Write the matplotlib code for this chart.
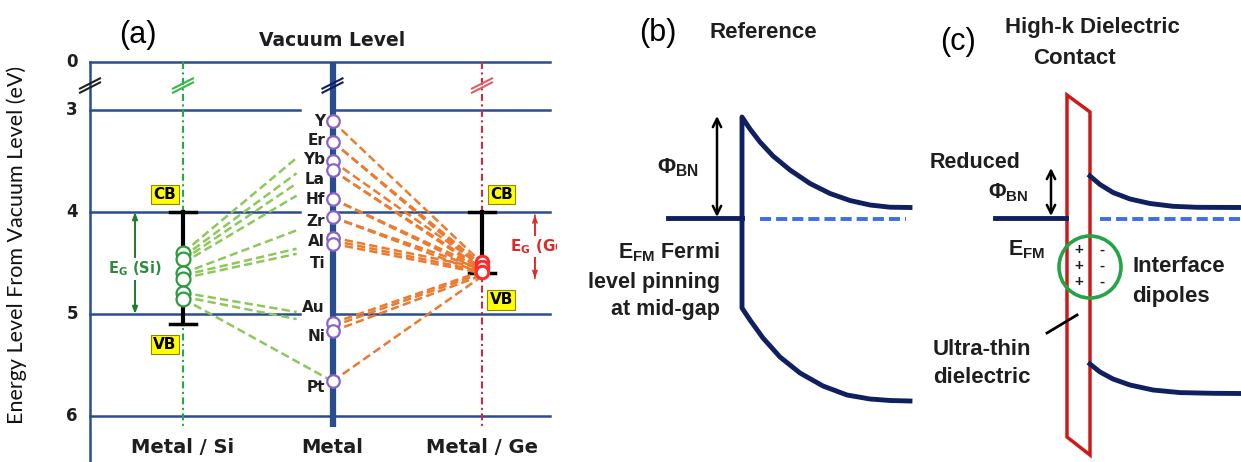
import numpy as np
import matplotlib.pyplot as plt
from matplotlib.patches import Polygon, Circle

plt.rcParams['lines.scale_dashes'] = False
plt.rcParams['font.family'] = ['DejaVu Sans']

# ---------------- panel (a): energies in eV below vacuum ----------------
grid_levels = [0, 3, 4, 5, 6]
metals = ['Y', 'Er', 'Yb', 'La', 'Hf', 'Zr', 'Al', 'Ti', 'Au', 'Ni', 'Pt']
metal_wf = [3.11, 3.31, 3.50, 3.59, 3.87, 4.05, 4.25, 4.31, 5.09, 5.17, 5.66]
metal_label_e = [3.11, 3.30, 3.49, 3.68, 3.88, 4.09, 4.29, 4.50, 4.94, 5.22, 5.72]
si_cb, si_vb = 4.0, 5.1
ge_cb, ge_vb = 4.0, 4.6
si_pin = [4.40, 4.46, 4.60, 4.66, 4.79, 4.85]
ge_pin = [4.49, 4.54, 4.59]
# (Si pinned level, metal level) for the green lines
green_links = [(4.40, 3.47), (4.44, 3.62), (4.47, 3.72), (4.50, 3.84),
               (4.60, 4.18), (4.62, 4.36), (4.65, 4.41), (4.79, 4.98),
               (4.83, 5.05), (4.85, 5.66)]
# (metal level, Ge pinned level) for the orange lines
orange_links = [(3.11, 4.50), (3.31, 4.52), (3.31, 4.55), (3.50, 4.53),
                (3.59, 4.55), (3.59, 4.57), (3.87, 4.55), (3.87, 4.58),
                (4.05, 4.56), (4.05, 4.60), (4.25, 4.55), (4.28, 4.58),
                (4.31, 4.60), (5.09, 4.58), (5.12, 4.60), (5.17, 4.62),
                (5.66, 4.63)]
columns = ['Metal / Si', 'Metal', 'Metal / Ge']

# ---------------- panels (b) and (c): schematic band edges ----------------
b_cb_x = [742, 750, 760, 773, 790, 810, 830, 850, 870, 890, 910]
b_cb_y = [117, 129, 142, 156, 170, 183.5, 193.5, 200.5, 205, 207.2, 207.5]
b_vb_x = [742, 750, 763, 780, 800, 823, 847, 870, 890, 910]
b_vb_y = [308, 320, 338, 357, 373, 386, 395, 399, 400.5, 401]
c_cb_x = [1090, 1100, 1113, 1130, 1150, 1173, 1197, 1241]
c_cb_y = [176, 184.5, 192.5, 199, 203.5, 206.3, 207.3, 207.5]
c_vb_x = [1090, 1100, 1113, 1130, 1153, 1180, 1213, 1241]
c_vb_y = [364, 372, 379, 385, 390, 392.6, 393.3, 393.5]
dielectric = [(1067, 95), (1090, 112), (1090, 455), (1067, 437)]

navy = '#2a4d8f'
band = '#0f1f5f'
green = '#2e9a3e'
red = '#e02828'
ink = '#1e1e1e'


def yv(e):
    # broken axis: vacuum level drawn just above 3 eV
    return e if e >= 3 else 2.53


fig = plt.figure(figsize=(12.41, 4.62), dpi=100)

ax = fig.add_axes([0, 0, 557 / 1241, 1])
ax.set_xlim(-33.5 / 149.5, (557 - 33.5) / 149.5)
ax.set_ylim(3 + 352 / 102, 3 - 110 / 102)
ax.axis('off')

x_axis, x_end = 0.378, 3.455
x_si, x_m, x_ge = 1, 2, 3

for lev in grid_levels:
    y = yv(lev)
    if lev in (3, 4, 5):
        ax.plot([x_axis, 1.78], [y, y], color=navy, lw=1.8)
        ax.plot([x_m, x_end], [y, y], color=navy, lw=1.8)
    else:
        ax.plot([x_axis, x_end], [y, y], color=navy, lw=1.8)
    ax.text(0.258, y, str(lev), ha='center', va='center', fontsize=12,
            fontweight='bold', color=ink)
ax.plot([x_axis, x_axis], [yv(0), 6.45], color=navy, lw=1.8)

ax.plot([x_si, x_si], [yv(0), 6.11], color='#22aa44', lw=1.5,
        dashes=(5, 2.5, 1.5, 2.5))
ax.plot([x_ge, x_ge], [yv(0), 6.11], color='#d02a3a', lw=1.5,
        dashes=(5, 2.5, 1.5, 2.5))
ax.plot([x_m, x_m], [yv(0), 6.11], color=navy, lw=4.5, solid_capstyle='butt')


def brk(x, color):
    for d in (-0.02, 0.02):
        ax.plot([x - 0.067, x + 0.067], [2.76 + 0.05 + d, 2.76 - 0.05 + d],
                color=color, lw=1.5)


brk(x_axis, '#222222')
brk(x_si, '#33bb44')
brk(x_m, band)
brk(x_ge, '#e06060')

# band gaps
ax.plot([x_si, x_si], [si_cb, si_vb], color='k', lw=3)
ax.plot([x_ge, x_ge], [ge_cb, ge_vb], color='k', lw=3)
for xc, e in [(x_si, si_cb), (x_si, si_vb), (x_ge, ge_cb), (x_ge, ge_vb)]:
    ax.plot([xc - 0.09, xc + 0.09], [e, e], color='k', lw=2.5)

for s, m in green_links:
    xe = x_m if m > 5.5 else 1.76
    ax.plot([x_si, xe], [s, m], color='#8dc85a', lw=1.8, dashes=(6, 3))
for m, g in orange_links:
    ax.plot([x_m, x_ge], [m, g], color='#ea7b30', lw=1.8, dashes=(6, 3))

ax.plot([x_si] * len(si_pin), si_pin, 'o', ms=10, mfc='white', mec=green, mew=1.6)
ax.plot([x_m] * len(metal_wf), metal_wf, 'o', ms=9, mfc='white', mec='#8a63c8', mew=1.6)
ax.plot([x_ge] * len(ge_pin), ge_pin, 'o', ms=9, mfc='white', mec='#ff2a2a', mew=2.2)

for name, e in zip(metals, metal_label_e):
    ax.text(1.95, e, name, ha='right', va='center', fontsize=11,
            fontweight='bold', color=ink)

box = dict(boxstyle='square,pad=0.15', fc='#ffff00', ec='#8a8a00', lw=0.8)
ax.text(0.88, 3.83, 'CB', ha='center', va='center', fontsize=11, fontweight='bold', bbox=box)
ax.text(0.88, 5.30, 'VB', ha='center', va='center', fontsize=11, fontweight='bold', bbox=box)
ax.text(3.13, 3.83, 'CB', ha='center', va='center', fontsize=11, fontweight='bold', bbox=box)
ax.text(3.13, 4.86, 'VB', ha='center', va='center', fontsize=11, fontweight='bold', bbox=box)

ax.annotate('', xy=(0.679, si_cb), xytext=(0.679, 5.0),
            arrowprops=dict(arrowstyle='<|-|>,head_length=0.4,head_width=0.15',
                            color='#1f7a2e', lw=1.4, shrinkA=0, shrinkB=0))
ax.text(0.679, 4.56, 'E$_\\mathregular{G}$ (Si)', ha='center', va='center',
        fontsize=10.5, fontweight='bold', color='#2e8b3e',
        bbox=dict(fc='white', ec='none', pad=1))
ax.annotate('', xy=(3.354, 4.03), xytext=(3.354, 4.65),
            arrowprops=dict(arrowstyle='->,head_length=0.4,head_width=0.15',
                            color=red, lw=1.2, shrinkA=0, shrinkB=0))
ax.annotate('', xy=(3.354, 4.65), xytext=(3.354, 4.03),
            arrowprops=dict(arrowstyle='->,head_length=0.4,head_width=0.15',
                            color=red, lw=1.2, shrinkA=0, shrinkB=0))
ax.text(3.19, 4.34, 'E$_\\mathregular{G}$ (Ge)', ha='left', va='center',
        fontsize=11, fontweight='bold', color=red, clip_on=True,
        bbox=dict(fc='white', ec='none', pad=1))

ax.text(-0.11, 4.32, 'Energy Level From Vacuum Level (eV)', rotation=90,
        ha='center', va='center', fontsize=15.5, color='#111',
        family=['Lato', 'DejaVu Sans'])
ax.text(x_m, 2.314, 'Vacuum Level', ha='center', va='center', fontsize=13.5,
        fontweight='bold', color=ink)
for xc, name in zip([x_si, x_m, x_ge], columns):
    ax.text(xc, 6.31, name, ha='center', va='center', fontsize=14,
            fontweight='bold', color=ink)
ax.text(0.70, 2.265, '(a)', ha='center', va='center', fontsize=22,
        family=['Liberation Sans', 'DejaVu Sans'])

# ---------------- panels (b), (c) ----------------
ax2 = fig.add_axes([557 / 1241, 0, 684 / 1241, 1])
ax2.set_xlim(557, 1241)
ax2.set_ylim(462, 0)
ax2.axis('off')
sans = ['Liberation Sans', 'DejaVu Sans']

# (b) reference contact
ax2.plot(b_cb_x[::-1] + b_vb_x, b_cb_y[::-1] + b_vb_y, color=band, lw=3.5,
         solid_joinstyle='round')
ax2.plot([668, 742], [218, 218], color=band, lw=3.5)
ax2.plot([760, 906], [219, 219], color='#3c6ee6', lw=2.8, dashes=(8, 3.6))
ax2.annotate('', xy=(717, 116), xytext=(717, 217),
             arrowprops=dict(arrowstyle='<->,head_length=0.6,head_width=0.3',
                             color='k', lw=1.8, shrinkA=0, shrinkB=0))
ax2.text(658, 33, '(b)', ha='center', va='center', fontsize=22, family=sans)
ax2.text(763, 33, 'Reference', ha='center', va='center', fontsize=16,
         fontweight='bold', family=sans, color=ink)
ax2.text(678, 168, 'Φ$_\\mathregular{BN}$', ha='center', va='center',
         fontsize=16, fontweight='bold', family=sans, color=ink)
for txt, yb in [('E$_\\mathregular{FM}$ Fermi', 258), ('level pinning', 288),
                ('at mid-gap', 315)]:
    ax2.text(720, yb, txt, ha='right', va='baseline', fontsize=15.5,
             fontweight='bold', family=sans, color=ink)

# (c) high-k dielectric contact
ax2.plot(c_cb_x, c_cb_y, color=band, lw=3.5, solid_joinstyle='round')
ax2.plot(c_vb_x, c_vb_y, color=band, lw=3.5, solid_joinstyle='round')
ax2.plot([995, 1066], [218, 218], color=band, lw=3.5)
ax2.plot([1100, 1241], [219, 219], color='#3c6ee6', lw=2.8, dashes=(8, 3.6))
ax2.add_patch(Polygon(dielectric, closed=True, fill=False, ec='#cc1a1a', lw=2.5))
ax2.add_patch(Circle((1090, 267), 31, fill=False, ec='#21a546', lw=2.6))
for yy in (250, 266, 282):
    ax2.text(1079, yy, '+', ha='center', va='center', fontsize=11,
             fontweight='bold', family=sans, color=ink)
    ax2.text(1102, yy, '-', ha='center', va='center', fontsize=11,
             fontweight='bold', family=sans, color=ink)
ax2.annotate('', xy=(1051, 168), xytext=(1051, 216),
             arrowprops=dict(arrowstyle='<->,head_length=0.6,head_width=0.3',
                             color='k', lw=1.8, shrinkA=0, shrinkB=0))
ax2.plot([1047, 1077], [333, 315], color='k', lw=2)
ax2.text(958, 42, '(c)', ha='center', va='center', fontsize=22, family=sans)
ax2.text(1092, 28, 'High-k Dielectric', ha='center', va='center', fontsize=16,
         fontweight='bold', family=sans, color=ink)
ax2.text(1074, 58, 'Contact', ha='center', va='center', fontsize=16,
         fontweight='bold', family=sans, color=ink)
ax2.text(930, 168, 'Reduced', ha='left', va='baseline', fontsize=15.5,
         fontweight='bold', family=sans, color=ink)
ax2.text(988, 198, 'Φ$_\\mathregular{BN}$', ha='left', va='baseline',
         fontsize=15.5, fontweight='bold', family=sans, color=ink)
ax2.text(1008, 255, 'E$_\\mathregular{FM}$', ha='left', va='baseline',
         fontsize=15.5, fontweight='bold', family=sans, color=ink)
ax2.text(1132, 272, 'Interface', ha='left', va='baseline', fontsize=16,
         fontweight='bold', family=sans, color=ink)
ax2.text(1132, 302, 'dipoles', ha='left', va='baseline', fontsize=16,
         fontweight='bold', family=sans, color=ink)
ax2.text(933, 355, 'Ultra-thin', ha='left', va='baseline', fontsize=16,
         fontweight='bold', family=sans, color=ink)
ax2.text(933, 383, 'dielectric', ha='left', va='baseline', fontsize=16,
         fontweight='bold', family=sans, color=ink)

fig.savefig('out.png', dpi=100)
